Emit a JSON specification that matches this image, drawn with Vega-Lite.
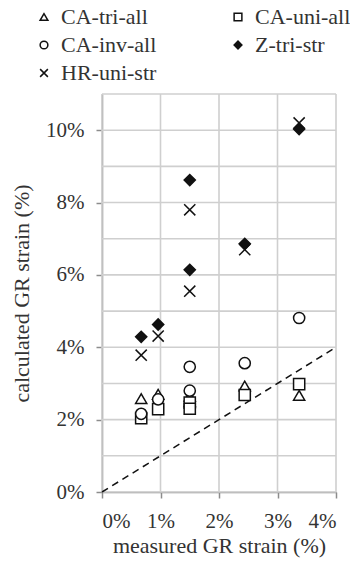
{
  "$schema": "https://vega.github.io/schema/vega-lite/v6.json",
  "width": 234,
  "height": 398,
  "autosize": {"type": "none"},
  "padding": {"left": 102, "top": 94, "right": 14, "bottom": 72},
  "config": {
    "font": "Liberation Serif",
    "view": {"stroke": null},
    "axis": {
      "grid": false,
      "labelFont": "Liberation Serif",
      "titleFont": "Liberation Serif",
      "labelFontSize": 21,
      "titleFontSize": 22,
      "labelColor": "#333333",
      "titleColor": "#333333",
      "titleFontWeight": "normal",
      "domainColor": "#8c8c8c",
      "domainWidth": 1.5,
      "tickSize": 6,
      "tickWidth": 1.5,
      "tickColor": "#8c8c8c"
    },
    "legend": {
      "labelFont": "Liberation Serif",
      "labelFontSize": 22,
      "labelColor": "#333333"
    }
  },
  "layer": [
    {
      "data": {"values": [
        {"measured": 0}, {"measured": 1}, {"measured": 2}, {"measured": 3}, {"measured": 4}
      ]},
      "mark": {"type": "rule", "color": "#cfcfcf", "strokeWidth": 1.6},
      "encoding": {
        "x": {
          "field": "measured",
          "type": "quantitative",
          "scale": {"domain": [0, 4], "nice": false},
          "axis": {
            "title": "measured GR strain (%)",
            "values": [0, 1, 2, 3, 4],
            "labelExpr": "datum.value + '%'",
            "labelPadding": 12,
            "titlePadding": 4
          }
        }
      }
    },
    {
      "data": {"values": [
        {"calculated": 0}, {"calculated": 1}, {"calculated": 2}, {"calculated": 3},
        {"calculated": 4}, {"calculated": 5}, {"calculated": 6}, {"calculated": 7},
        {"calculated": 8}, {"calculated": 9}, {"calculated": 10}, {"calculated": 11}
      ]},
      "mark": {"type": "rule", "color": "#cfcfcf", "strokeWidth": 1.6},
      "encoding": {
        "y": {
          "field": "calculated",
          "type": "quantitative",
          "scale": {"domain": [0, 11], "nice": false},
          "axis": {
            "title": "calculated GR strain (%)",
            "values": [0, 2, 4, 6, 8, 10],
            "labelExpr": "datum.value + '%'",
            "labelPadding": 12,
            "titlePadding": 12
          }
        }
      }
    },
    {
      "data": {"values": [
        {"measured": 0, "calculated": 0},
        {"measured": 4, "calculated": 4}
      ]},
      "mark": {"type": "line", "color": "#111111", "strokeWidth": 1.5, "strokeDash": [7, 5]},
      "encoding": {
        "x": {"field": "measured", "type": "quantitative"},
        "y": {"field": "calculated", "type": "quantitative"}
      }
    },
    {
      "data": {"values": [
        {"series": "CA-tri-all", "measured": 0.67, "calculated": 2.58},
        {"series": "CA-tri-all", "measured": 0.96, "calculated": 2.70},
        {"series": "CA-tri-all", "measured": 1.5, "calculated": 2.65},
        {"series": "CA-tri-all", "measured": 1.5, "calculated": 2.50},
        {"series": "CA-tri-all", "measured": 2.44, "calculated": 2.93},
        {"series": "CA-tri-all", "measured": 3.37, "calculated": 2.67},
        {"series": "CA-uni-all", "measured": 0.67, "calculated": 2.04},
        {"series": "CA-uni-all", "measured": 0.96, "calculated": 2.29},
        {"series": "CA-uni-all", "measured": 1.5, "calculated": 2.47},
        {"series": "CA-uni-all", "measured": 1.5, "calculated": 2.30},
        {"series": "CA-uni-all", "measured": 2.44, "calculated": 2.68},
        {"series": "CA-uni-all", "measured": 3.37, "calculated": 2.98},
        {"series": "CA-inv-all", "measured": 0.67, "calculated": 2.16},
        {"series": "CA-inv-all", "measured": 0.96, "calculated": 2.56},
        {"series": "CA-inv-all", "measured": 1.5, "calculated": 3.46},
        {"series": "CA-inv-all", "measured": 1.5, "calculated": 2.80},
        {"series": "CA-inv-all", "measured": 2.44, "calculated": 3.56},
        {"series": "CA-inv-all", "measured": 3.37, "calculated": 4.81},
        {"series": "Z-tri-str", "measured": 0.67, "calculated": 4.29},
        {"series": "Z-tri-str", "measured": 0.96, "calculated": 4.63},
        {"series": "Z-tri-str", "measured": 1.5, "calculated": 8.62},
        {"series": "Z-tri-str", "measured": 1.5, "calculated": 6.14},
        {"series": "Z-tri-str", "measured": 2.44, "calculated": 6.86},
        {"series": "Z-tri-str", "measured": 3.37, "calculated": 10.03},
        {"series": "HR-uni-str", "measured": 0.67, "calculated": 3.78},
        {"series": "HR-uni-str", "measured": 0.96, "calculated": 4.31},
        {"series": "HR-uni-str", "measured": 1.5, "calculated": 7.80},
        {"series": "HR-uni-str", "measured": 1.5, "calculated": 5.55},
        {"series": "HR-uni-str", "measured": 2.44, "calculated": 6.70},
        {"series": "HR-uni-str", "measured": 3.37, "calculated": 10.20}
      ]},
      "mark": {"type": "point", "stroke": "#111111", "strokeWidth": 1.5, "opacity": 1, "size": 125},
      "encoding": {
        "x": {"field": "measured", "type": "quantitative"},
        "y": {"field": "calculated", "type": "quantitative"},
        "shape": {
          "field": "series",
          "type": "nominal",
          "scale": {
            "domain": ["CA-tri-all", "CA-uni-all", "CA-inv-all", "Z-tri-str", "HR-uni-str"],
            "range": ["triangle-up", "square", "circle", "diamond", "M-1,-1L1,1M-1,1L1,-1"]
          },
          "legend": {
            "orient": "none",
            "direction": "horizontal",
            "legendX": -69,
            "legendY": -88,
            "columns": 2,
            "columnPadding": 70,
            "rowPadding": 6,
            "padding": 0,
            "title": null,
            "symbolSize": 60,
            "symbolStrokeWidth": 1.5,
            "labelOffset": 6
          }
        },
        "fill": {
          "field": "series",
          "type": "nominal",
          "scale": {
            "domain": ["CA-tri-all", "CA-uni-all", "CA-inv-all", "Z-tri-str", "HR-uni-str"],
            "range": ["white", "white", "white", "#111111", "white"]
          },
          "legend": {
            "orient": "none",
            "direction": "horizontal",
            "legendX": -69,
            "legendY": -88,
            "columns": 2,
            "columnPadding": 70,
            "rowPadding": 6,
            "padding": 0,
            "title": null,
            "symbolSize": 60,
            "symbolStrokeWidth": 1.5,
            "labelOffset": 6
          }
        }
      }
    }
  ]
}
